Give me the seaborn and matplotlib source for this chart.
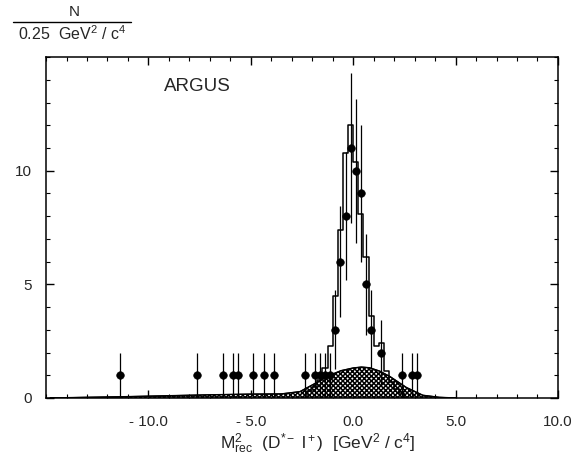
import matplotlib
matplotlib.use('Agg')
import numpy as np
import matplotlib.pyplot as plt
import seaborn as sns

# data points (bin centres, counts per 0.25 GeV^2/c^4)
data_x = [-11.375, -7.625, -6.375, -5.875, -5.625, -4.875, -4.375, -3.875,
          -2.375, -1.875, -1.625, -1.375, -1.125,
          -0.875, -0.625, -0.375, -0.125, 0.125, 0.375, 0.625, 0.875, 1.375,
          2.375, 2.875, 3.125]
data_n = [1, 1, 1, 1, 1, 1, 1, 1,
          1, 1, 1, 1, 1,
          3, 6, 8, 11, 10, 9, 5, 3, 2,
          1, 1, 1]

# expected signal + background histogram (step line)
mc_x = [-2.125, -1.875, -1.625, -1.375, -1.125, -0.875, -0.625, -0.375, -0.125,
        0.125, 0.375, 0.625, 0.875, 1.125, 1.375, 1.625, 1.875, 2.125, 2.375]
mc_n = [0.3, 0.5, 0.8, 1.3, 2.3, 4.5, 7.4, 10.8, 12.0,
        10.4, 8.1, 6.2, 3.6, 2.3, 2.4, 1.2, 0.7, 0.4, 0.2]

# background shape (hatched)
bg_x = [-14.8, -13.0, -11.0, -9.0, -7.0, -5.0, -3.5, -2.6, -1.9, -1.2, -0.6,
        0.0, 0.4, 0.8, 1.3, 1.8, 2.6, 3.4, 4.2, 5.0]
bg_y = [0.0, 0.03, 0.06, 0.1, 0.14, 0.17, 0.18, 0.28, 0.62, 0.98, 1.2,
        1.32, 1.36, 1.33, 1.18, 0.94, 0.46, 0.12, 0.03, 0.0]

sns.set_style('ticks')
plt.rcParams['font.family'] = ['Liberation Sans', 'DejaVu Sans']
plt.rcParams['mathtext.fontset'] = 'custom'
plt.rcParams['mathtext.rm'] = 'Liberation Sans'
plt.rcParams['mathtext.it'] = 'Liberation Sans'
plt.rcParams['hatch.linewidth'] = 1.1

fig = plt.figure(figsize=(5.83, 4.68), dpi=100)
ax = fig.add_axes([0.079, 0.1496, 0.878, 0.7284])

# hatched background
ax.fill_between(bg_x, 0, bg_y, facecolor='white', edgecolor='black',
                hatch='xxxxxxx', linewidth=0.8, zorder=1)
ax.plot(bg_x, bg_y, color='black', lw=1.0, zorder=2)

# step histogram
mc_x_ext = [mc_x[0] - 0.25] + mc_x + [mc_x[-1] + 0.25]
mc_n_ext = [0.0] + mc_n + [0.0]
sns.lineplot(x=mc_x_ext, y=mc_n_ext, drawstyle='steps-mid', color='black',
             lw=1.1, ax=ax, zorder=3)

# data error bars and points
err = np.sqrt(np.array(data_n, dtype=float))
ax.vlines(data_x, np.array(data_n) - err, np.array(data_n) + err,
          color='black', lw=0.9, zorder=4)
sns.scatterplot(x=data_x, y=data_n, color='black', s=30, edgecolor='black',
                ax=ax, zorder=5)

ax.set_xlim(-15, 10)
ax.set_ylim(0, 15)
ax.set_xticks([-10, -5, 0, 5, 10])
ax.set_xticklabels(['- 10.0', '- 5.0', '0.0', '5.0', '10.0'])
ax.set_xticks(np.arange(-15, 11, 1), minor=True)
ax.set_yticks([0, 5, 10])
ax.set_yticks(np.arange(0, 16, 1), minor=True)
ax.tick_params(which='both', direction='in', top=True, right=True,
               labelsize=11, color='black')
ax.tick_params(which='major', length=6, width=1)
ax.tick_params(which='minor', length=3, width=0.8)
ax.tick_params(axis='x', pad=12)
ax.tick_params(axis='y', pad=10)
for lab in ax.get_xticklabels():
    lab.set_x(lab.get_position()[0])
for s in ax.spines.values():
    s.set_linewidth(1.1)
    s.set_color('black')

ax.text(-7.6, 13.7, 'ARGUS', fontsize=13.5, ha='center', va='center')

ax.set_xlabel(r'M$^2_{\rm rec}$  (D$^{*-}$ l$^+$)  [GeV$^2$ / c$^4$]',
              fontsize=12.5, labelpad=4)
ax.xaxis.set_label_coords(0.53, -0.1)

# y label as fraction in top-left corner
fig.text(74 / 583, 1 - 12 / 468, 'N', fontsize=11, ha='center', va='center')
fig.add_artist(plt.Line2D([13 / 583, 131 / 583], [1 - 22 / 468, 1 - 22 / 468],
                          color='black', lw=1.0))
fig.text(72 / 583, 1 - 34 / 468, r'0.25  GeV$^2$ / c$^4$', fontsize=11.5,
         ha='center', va='center')

fig.savefig('out.png', dpi=100)
